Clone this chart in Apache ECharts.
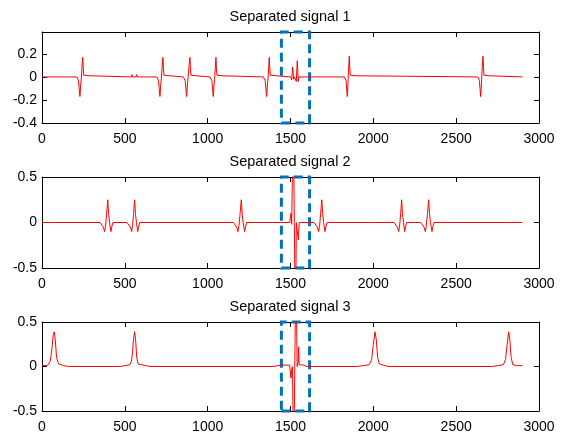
<!DOCTYPE html>
<html>
<head>
<meta charset="utf-8">
<script src="https://cdn.jsdelivr.net/npm/echarts@6/dist/echarts.min.js"></script>
<style>
html,body{margin:0;padding:0;background:#fff;}
#chart{width:568px;height:434px;}
</style>
</head>
<body>
<div id="chart"></div>
<script>
// ---- data ----
var titles = ['Separated signal 1', 'Separated signal 2', 'Separated signal 3'];
var xTicks = [0, 500, 1000, 1500, 2000, 2500, 3000];
var yRange1 = [-0.4, 0.39];
var yRange2 = [-0.5, 0.5];
var yRange3 = [-0.5, 0.5];
var highlightX = [1445, 1615];

var signal1 = [
  [0,0],[210,0],[220,-0.03],[229,-0.17],[233,-0.08],[238,0.0],[242,0.1],[246,0.17],[249,0.08],[252,0.015],[290,0.01],[296,0],
  [540,0],[543,0.02],[546,0],[568,0],[571,0.02],[574,0],
  [692,0],[703,-0.03],[712,-0.17],[716,-0.08],[721,0.0],[726,0.1],[730,0.17],[733,0.08],[736,0.015],[770,0.01],[776,0],
  [853,0],[864,-0.03],[873,-0.17],[877,-0.08],[882,0.0],[888,0.1],[893,0.17],[896,0.08],[899,0.015],[930,0.01],[936,0],
  [1014,0],[1025,-0.03],[1034,-0.17],[1038,-0.08],[1043,0.0],[1047,0.1],[1050,0.17],[1053,0.08],[1056,0.015],[1090,0.01],[1096,0],
  [1336,0],[1347,-0.03],[1356,-0.17],[1360,-0.08],[1365,0.0],[1369,0.1],[1372,0.17],[1375,0.08],[1378,0.015],[1410,0.01],[1416,0],
  [1502,0],[1507,-0.025],[1513,0.085],[1519,-0.02],[1524,0],[1530,-0.01],[1535,-0.04],[1541,0.14],[1547,-0.04],[1552,0],
  [1826,0],[1835,-0.03],[1843,-0.17],[1846,-0.08],[1850,0.05],[1855,0.18],[1858,0.08],[1861,0.015],[1895,0.01],[1900,0],
  [2630,0],[2640,-0.03],[2648,-0.17],[2652,-0.08],[2656,0.05],[2662,0.18],[2665,0.08],[2668,0.015],[2700,0.01],[2706,0],
  [2900,0]
];

var signal2 = [
  [0,0],[66,0],[74,0.01],[82,0],
  [350,0],[370,-0.05],[378,-0.1],[384,-0.03],[390,0.1],[397,0.25],[402,0.1],[408,0.0],[416,-0.1],[421,-0.05],[428,0],
  [513,0],[533,-0.05],[541,-0.1],[547,-0.03],[553,0.1],[559,0.25],[564,0.1],[570,0.0],[578,-0.1],[583,-0.05],[590,0],
  [1155,0],[1175,-0.05],[1183,-0.1],[1189,-0.03],[1196,0.1],[1203,0.25],[1208,0.1],[1214,0.0],[1223,-0.1],[1228,-0.05],[1235,0],
  [1495,0],[1500,0.02],[1503,0.1],[1507,-0.02],[1511,0],[1517,1.2],[1523,0],[1530,-1.2],[1535,0],[1541,0.02],[1547,-0.19],[1553,0],
  [1642,0],[1662,-0.05],[1670,-0.1],[1676,-0.03],[1682,0.1],[1689,0.25],[1694,0.1],[1700,0.0],[1708,-0.1],[1713,-0.05],[1720,0],
  [1998,0],[2006,0.01],[2014,0],
  [2125,0],[2145,-0.05],[2153,-0.1],[2159,-0.03],[2165,0.1],[2171,0.25],[2176,0.1],[2182,0.0],[2189,-0.1],[2194,-0.05],[2201,0],
  [2286,0],[2306,-0.05],[2314,-0.1],[2320,-0.03],[2327,0.1],[2334,0.25],[2339,0.1],[2345,0.0],[2354,-0.1],[2359,-0.05],[2366,0],
  [2807,0],[2815,0.01],[2823,0],
  [2900,0]
];

var signal3 = [
  [0,0.01],[35,0.015],[50,0.06],[60,0.2],[68,0.36],[74,0.39],[80,0.3],[88,0.1],[100,0.03],[130,0.01],[160,0],
  [470,0],[500,0.01],[530,0.02],[540,0.06],[546,0.15],[552,0.3],[559,0.39],[565,0.3],[572,0.1],[580,0.03],[600,0.02],[630,0.01],[650,0],
  [1400,0],[1440,0.016],[1495,0.016],[1500,0],[1503,-0.13],[1506,-0.05],[1512,0],[1519,-1.2],[1526,0],[1533,1.2],[1540,0],[1546,0.05],[1549,0.22],[1552,0.02],[1580,0.016],[1600,0],
  [1900,0],[1940,0.01],[1975,0.02],[1990,0.08],[2000,0.25],[2010,0.39],[2018,0.3],[2026,0.1],[2036,0.03],[2060,0.015],[2090,0],
  [2720,0],[2750,0.01],[2785,0.02],[2798,0.08],[2808,0.25],[2817,0.39],[2824,0.3],[2832,0.1],[2842,0.02],[2870,0.01],[2900,0.01]
];

// ---- chart ----
var signals = [signal1, signal2, signal3];
var yRanges = [yRange1, yRange2, yRange3];
var yIntervals = [0.2, 0.5, 0.5];
var gridTops = [32, 177, 322];
var titleTops = [9, 154, 299];
var FONT = 'Liberation Sans, Arial, sans-serif';

function baseAxisLine(){ return {show:true, onZero:false, lineStyle:{color:'#000', width:1}}; }

var option = {
  animation:false,
  backgroundColor:'#fff',
  title: [], grid: [], xAxis: [], yAxis: [], series: []
};

for (var i = 0; i < 3; i++) {
  option.title.push({
    text: titles[i], left: 290, top: titleTops[i], textAlign: 'center', padding: 0,
    textStyle: {color:'#000', fontSize:14.5, fontWeight:'normal', fontFamily:FONT}
  });
  option.grid.push({left:42, right:29, top:gridTops[i], height:91, containLabel:false});
  // bottom x axis
  option.xAxis.push({
    type:'value', gridIndex:i, min:xTicks[0], max:xTicks[xTicks.length-1], interval:500, position:'bottom',
    axisLine: baseAxisLine(),
    axisTick:{show:true, inside:true, length:5, lineStyle:{color:'#000'}},
    axisLabel:{color:'#000', fontSize:14, fontFamily:FONT, margin:9,
      formatter:function(v){ return String(v); }},
    splitLine:{show:false}
  });
  // top x axis (frame)
  option.xAxis.push({
    type:'value', gridIndex:i, min:xTicks[0], max:xTicks[xTicks.length-1], interval:500, position:'top',
    axisLine: baseAxisLine(),
    axisTick:{show:true, inside:true, length:5, lineStyle:{color:'#000'}},
    axisLabel:{show:false}, splitLine:{show:false}
  });
  var yr = yRanges[i], yi = yIntervals[i];
  option.yAxis.push({
    type:'value', gridIndex:i, min:yr[0], max:yr[1], interval:yi, position:'left',
    axisLine: baseAxisLine(),
    axisTick:{show:true, inside:true, length:5, lineStyle:{color:'#000'}},
    axisLabel:{color:'#000', fontSize:14, fontFamily:FONT, margin:5, showMaxLabel: i !== 0,
      formatter:function(v){ return String(Math.round(v*10)/10); }},
    splitLine:{show:false}
  });
  option.yAxis.push({
    type:'value', gridIndex:i, min:yr[0], max:yr[1], interval:yi, position:'right',
    axisLine: baseAxisLine(),
    axisTick:{show:true, inside:true, length:5, lineStyle:{color:'#000'}},
    axisLabel:{show:false}, splitLine:{show:false}
  });
  option.series.push({
    type:'line', xAxisIndex:2*i, yAxisIndex:2*i, data:signals[i],
    showSymbol:false, symbol:'none', clip:true,
    lineStyle:{color:'#ff0000', width:1},
    markArea:{
      silent:true,
      itemStyle:{color:'rgba(0,0,0,0)', borderColor:'#0072BD', borderWidth:3, borderType:[9,5]},
      data:[[{xAxis:highlightX[0], yAxis:yr[0]}, {xAxis:highlightX[1], yAxis:yr[1]}]]
    }
  });
}

var chart = echarts.init(document.getElementById('chart'), null, {renderer:'canvas'});
chart.setOption(option);
</script>
</body>
</html>
